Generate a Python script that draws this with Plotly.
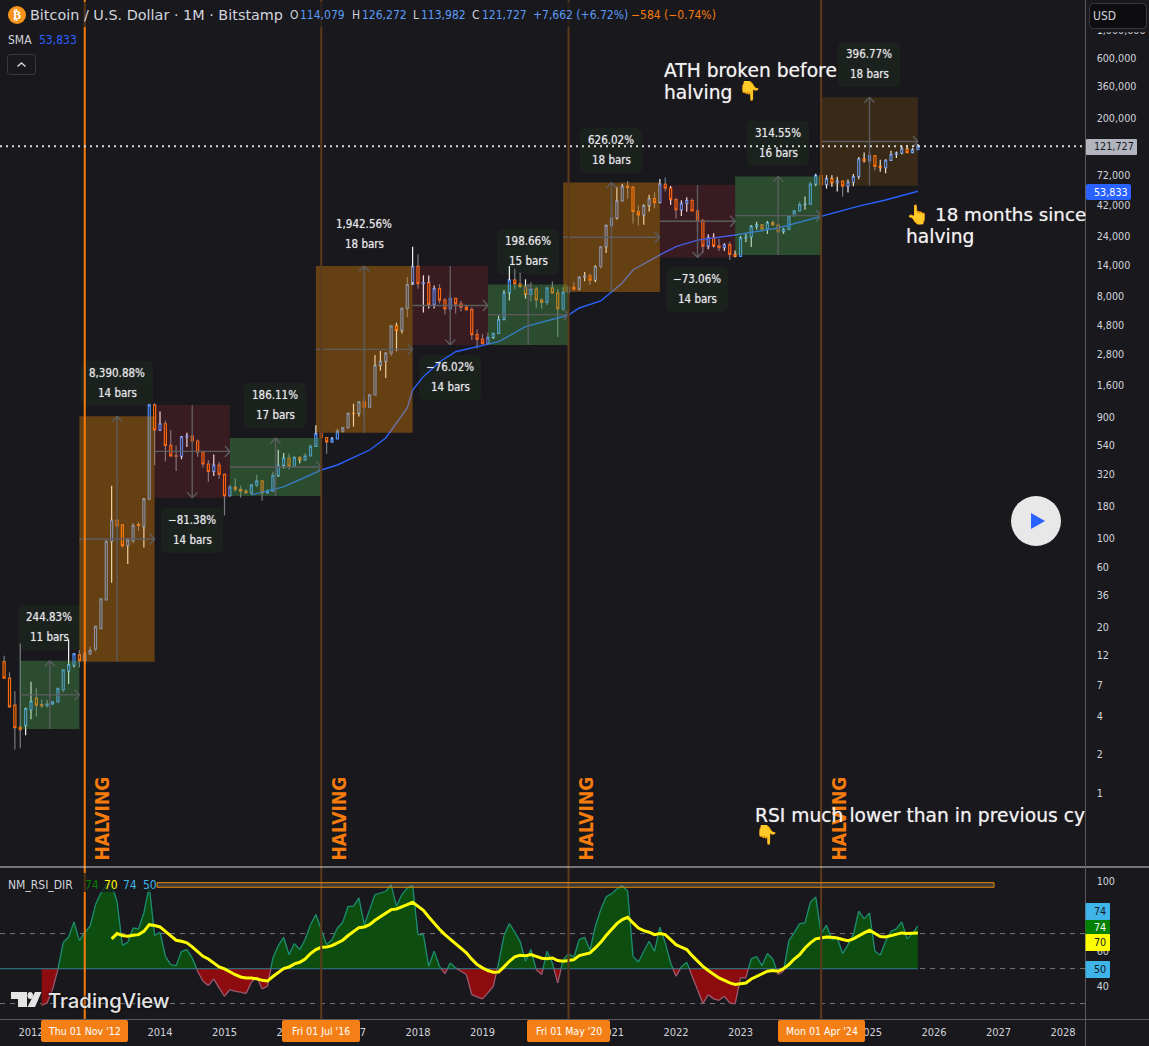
import plotly.graph_objects as go

W, H = 1149, 1046
BG = "#19181c"
TXT = "#d1d4dc"
FONT = "DejaVu Sans Condensed"
UP_BLUE = "#5b9cf6"
PANE_RIGHT, MAIN_BOTTOM, RSI_TOP, RSI_BOTTOM = 1085.5, 867, 868, 1019

# Monthly candles. Index 0 is January 2014; the series opens in August 2011.
FIRST_MONTH = -29
open_early = [10.8, 8.0, 4.9, 3.3, 3.4, 4.5, 5.55, 4.95, 4.85, 5.0, 5.2, 6.5, 9.1, 10.1, 12.2, 11, 12.4, 13.5, 19.6,
              33, 94.5, 139, 128, 88, 96, 129, 124, 204, 1125]
close_early = [8.0, 4.76, 3.26, 3.15, 4.6, 5.25, 4.9, 4.85, 5.0, 5.2, 6.65, 9.3, 10.2, 12.4, 11.0, 12.4, 13.2, 20.4,
               33.6, 95, 140, 126, 88, 98, 127, 127, 204, 1125, 715]
close_late = [
    800, 540, 447, 445, 630, 640, 585, 480, 386, 338, 378, 320,
    218, 254, 244, 236, 230, 264, 284, 229, 236, 314, 377, 430,
    369, 436, 416, 448, 530, 670, 621, 575, 609, 700, 745, 966,
    965, 1190, 1080, 1350, 2300, 2480, 2870, 4700, 4340, 6450, 9950, 13800,
    10100, 10300, 6930, 9240, 7490, 6390, 7730, 7010, 6610, 6300, 4020, 3700,
    3430, 3820, 4100, 5270, 8550, 10800, 10080, 9590, 8300, 9150, 7540, 7190,
    9350, 8550, 6410, 8620, 9450, 9140, 11350, 11650, 10780, 13780, 19700, 29000,
    33100, 45200, 58800, 57700, 37300, 35040, 41500, 47100, 43800, 61300, 56950, 46200,
    38500, 43200, 45500, 37700, 31800, 19950, 23300, 20050, 19420, 20490, 17170, 16540,
    23130, 23490, 28470, 29250, 27200, 30470, 29230, 25940, 26970, 34650, 37720, 42280,
    42580, 61130, 71290, 60670, 67500, 62770, 64620, 58970, 63330, 70290, 96450, 93540,
    102400, 84350, 82500, 94200, 104600, 107100, 115700, 108200, 114079, 121727]
high = [12, 8.9, 6.3, 15, 4.7, 7.5, 6.65, 5.4, 5.4, 5.25, 6.7, 9.4, 16, 12.5, 13.3, 12.9, 14.1, 20.7, 33.8, 97, 260,
        141, 130, 101, 133, 135, 208, 1155, 1160,
        1000, 850, 715, 540, 640, 680, 655, 600, 490, 415, 458, 400,
        320, 265, 298, 260, 245, 268, 317, 285, 245, 335, 500, 470,
        465, 440, 440, 470, 550, 780, 700, 625, 630, 735, 755, 980,
        1150, 1200, 1300, 1350, 2780, 2980, 2910, 4750, 4980, 6450, 11400, 19666,
        17170, 11780, 11700, 9760, 10000, 7780, 8480, 7770, 7400, 6800, 6580, 4400,
        4060, 4180, 4100, 5640, 9000, 13880, 13200, 12320, 10930, 10370, 9500, 7750,
        9580, 10500, 9180, 9470, 10080, 10380, 11440, 12470, 12070, 14100, 19850, 29300,
        41990, 58300, 61700, 64900, 59500, 41300, 42500, 50500, 52900, 67000, 69000, 59100,
        47900, 45800, 48200, 47400, 39800, 32400, 24700, 25200, 22800, 21000, 21500, 18400,
        23900, 25250, 29200, 31000, 29800, 31400, 31800, 30200, 27500, 35000, 38400, 44700,
        48900, 64000, 73800, 72800, 71900, 72000, 70000, 65000, 66500, 73600, 99800, 108300,
        109300, 102700, 95200, 95800, 111900, 110500, 123200, 124500, 117900, 126272]
low = [8, 4.7, 2.2, 2.25, 2.85, 3.8, 4.0, 4.65, 4.7, 4.95, 5.15, 6.2, 7.2, 9.7, 9.7, 10.3, 12.2, 13, 19.5, 33, 45,
       125, 85, 63, 92, 115, 85, 200, 378,
       700, 403, 440, 340, 420, 525, 570, 440, 360, 280, 310, 295,
       152, 212, 235, 210, 225, 220, 254, 198, 225, 236, 305, 355,
       350, 368, 390, 405, 437, 528, 610, 465, 570, 606, 680, 735,
       760, 910, 900, 1080, 1350, 2100, 1830, 2710, 2970, 4100, 5500, 10400,
       9200, 6000, 6430, 6430, 7040, 5770, 6070, 5880, 6100, 6200, 3650, 3120,
       3340, 3370, 3700, 4060, 5340, 7440, 9100, 9320, 7700, 7300, 6515, 6410,
       6850, 8450, 3850, 6150, 8100, 8900, 8970, 10540, 9880, 10370, 13200, 17600,
       27700, 32300, 45000, 47000, 30000, 28900, 29300, 37300, 39600, 43200, 53500, 42000,
       32900, 34300, 37200, 37600, 26000, 17600, 18800, 19500, 18200, 18200, 15500, 16300,
       16500, 21400, 19600, 26900, 25800, 24800, 28900, 25300, 24900, 26600, 34100, 37600,
       38500, 41900, 59000, 59600, 56500, 58400, 53500, 49000, 52700, 58900, 66800, 90700,
       89100, 78200, 76600, 74400, 93400, 98200, 105100, 107300, 107300, 113982]
bright_wick_months = [-25, -24, -17, -16, -14, -9, -6, -3, 0, 4, 5, 10, 22, 23, 25, 26, 29, 32, 36, 37, 39, 40, 41, 42,
                      44, 45, 47, 49, 50, 51, 62, 63, 64, 65, 68, 78, 79, 81, 83, 84, 85, 86, 90, 91, 93, 95, 97, 98,
                      102, 103, 105, 107, 108, 109, 110, 111, 113, 116, 120, 122, 123, 124, 125, 126, 128, 129, 130,
                      131, 132, 134, 135, 136, 137, 138, 139, 140, 141]

# Moving average knots: month index and price.
sma_months = [17, 23, 30, 33, 39, 42, 46, 47, 49, 52, 55, 59, 63, 68, 76, 78, 82, 86, 88, 93, 96, 100, 107, 115, 123,
              130, 135, 141]
sma_values = [221, 255, 346, 379, 497, 618, 1063, 1473, 1875, 2445, 2945, 3227, 3532, 4634, 5728, 6500, 7380, 10230,
              12940, 16980, 19720, 22230, 24370, 27670, 34380, 41080, 45900, 53833]

# RSI from month -22 to the last bar.
RSI_FIRST_MONTH = -22
rsi_values = [28.9, 30.4, 38, 49.4, 65, 68.1, 76.7, 66, 70.8, 74.2, 86.6, 93.2, 98, 98, 88.5, 63.3, 65, 73.2, 72.7,
              81.8, 97, 68.9, 70.8, 57, 52.3, 51.7, 59.9, 60.9, 56.1, 48.5, 42.8, 40.3, 44.1, 39, 34.2, 38, 37, 36.5,
              35.7, 42.2, 45.2, 38.4, 39.9, 56.1, 63.1, 67.9, 58, 64.3, 60.9, 66.6, 75.1, 80.9, 72.3, 63.7, 66.6,
              73.2, 76.5, 85.6, 85.6, 90.4, 75.1, 83.7, 92.3, 93.2, 94.2, 97.8, 85.6, 92.3, 96.1, 97.4, 69.4, 69.4,
              51.3, 59.9, 51.3, 47.1, 53.2, 50.4, 48.5, 46.6, 35.1, 33.8, 32.7, 36.1, 39.9, 53.2, 68.9, 75.7, 70.8,
              65.6, 54.2, 60.9, 49.4, 46.6, 59.9, 53.2, 41.8,
              55.1, 58.4, 56.5, 66.6, 67.9, 60.5, 74.2, 83.7, 91, 92.7, 95.5, 97.4, 94.2, 57, 53.8, 59.9, 65.6, 59.9,
              73.6, 64.7, 53.2, 45.6, 51, 53.6, 45.6, 38, 30, 35.1, 32.7, 31.9, 34.2, 30.4, 29.8, 44.7, 44.7, 55.7,
              56.9, 51.7, 58.6, 55.5, 46.6, 48.5, 66, 70.4, 75.7, 76.1, 87.9, 91, 70, 74.8, 66.6, 67.5, 58.6, 63.7,
              69.4, 82.8, 78.4, 81.8, 59.9, 57.6, 65.6, 71.3, 72.7, 76.7, 67, 70, 74.3]
RSI_MA_FIRST_MONTH = -9
rsi_ma_values = [67, 70, 68.9, 68.5, 69, 69.4, 71.3, 75.1, 74.6, 73.8, 71.3, 68.5, 66.2, 65.6, 64.7, 62.4, 59.9, 57,
                 55.5, 53.2, 51, 49.8, 48, 46.5, 45.2, 44.6, 44.6, 44.2, 43.3, 42.9, 45.5, 47.8, 50, 50.9, 52.7, 53.6,
                 55.5, 58.6, 60.9, 62.2, 62.4, 63.1, 64.7, 66.2, 68.9, 71.3, 73.4, 73.8, 75.1, 77.6, 79.5, 81.8, 83.7,
                 84.1, 85.2, 86.6, 87.9, 85.6, 83.3, 79.5, 75.9, 72.5, 69.4, 66.9, 64.4, 61.9, 59, 55.4, 52.3, 50.4,
                 48.9, 47.9, 48.1, 51, 54.2, 56.7, 57.6, 57.4, 58, 57, 55.9, 55.7, 56.1, 54.6, 54.2, 54.6, 55.1, 57.4,
                 58.4, 59, 61.8, 65, 68.9, 72.3, 75.7, 78, 79.3, 76.1, 73.2, 71.7, 70.8, 69.4, 70, 69.4, 66.6, 63.7,
                 62.2, 60.9, 57.4, 54.2, 51.3, 48.9, 46.6, 44.7, 43.3, 41.8, 40.9, 41.2, 41.8, 44.1, 45.6, 46.9, 48.5,
                 48.9, 48.5, 50, 52.3, 55.5, 58, 61.8, 64.7, 67, 67.5, 68.1, 67.9, 67.5, 66.6, 66, 67, 68.9, 70.4,
                 71.9, 70, 68.3, 68.1, 68.9, 69.8, 70.4, 70, 70, 70.3]

# Measured ranges: first month, bar count, base price (where the move starts), percent change, kind.
range_starts = [-26, -15, -1, 13, 29, 47, 61, 75, 93, 107, 123]
range_bars = [11, 14, 14, 17, 18, 14, 15, 18, 14, 16, 18]
range_base = [3.18, 10.77, 1123, 216, 680, 13900, 3333, 8685, 60260, 16980, 59470]
range_pct = [244.83, 8390.88, -81.38, 186.11, 1942.56, -76.02, 198.66, 626.02, -73.06, 314.55, 396.77]
range_fill = ["rgba(76,175,80,.35)", "rgba(240,140,0,.35)", "rgba(242,54,69,.15)", "rgba(76,175,80,.35)",
              "rgba(240,140,0,.35)", "rgba(242,54,69,.15)", "rgba(76,175,80,.35)", "rgba(240,140,0,.35)",
              "rgba(242,54,69,.15)", "rgba(76,175,80,.35)", "rgba(240,140,0,.15)"]
range_labels = ["244.83%", "8,390.88%", "−81.38%", "186.11%", "1,942.56%", "−76.02%", "198.66%", "626.02%", "−73.06%",
                "314.55%", "396.77%"]
label_centers = [49, 117, 192, 275, 364, 450, 528, 611, 697, 778, 869]
label_tops = [605, 361, 508, 383, 212, 355, 229, 128, 267, 121, 42]
label_has_panel = [True, True, True, True, False, True, True, True, True, True, True]

halving_months = [-14, 30, 76, 123]
halving_dates = ["Thu 01 Nov '12", "Fri 01 Jul '16", "Fri 01 May '20", "Mon 01 Apr '24"]
halving_tags = [(41, 128), (282, 360), (527, 610), (778, 865)]
year_labels = ["2012", "2014", "2015", "2016", "2017", "2018", "2019", "2021", "2022", "2023", "2025", "2026", "2027",
               "2028"]
year_months = [-24, 0, 12, 24, 36, 48, 60, 84, 96, 108, 132, 144, 156, 168]
price_ticks = [1, 2, 4, 7, 12, 20, 36, 60, 100, 180, 320, 540, 900, 1600, 2800, 4800, 8000, 14000, 24000, 42000, 72000,
               200000, 360000, 600000, 1000000]

PX_PER_MONTH = 5.375
PX_ORIGIN = 160.0
PX_PER_DECADE = 127.2
ONE_AT = 793.0


def xp(px):
    return px / W


def yp(py):
    return 1 - py / H


def month_at(px):
    return (px - PX_ORIGIN) / PX_PER_MONTH


x_range = [month_at(0), month_at(PANE_RIGHT)]
y_range = [(ONE_AT - MAIN_BOTTOM) / PX_PER_DECADE, ONE_AT / PX_PER_DECADE]
RSI_50_AT, RSI_UNIT = 968.6, 1.75
y2_range = [50 + (RSI_50_AT - RSI_BOTTOM) / RSI_UNIT, 50 + (RSI_50_AT - RSI_TOP) / RSI_UNIT]

open_all = open_early + [close_early[-1]] + close_late[:-1]
close_all = close_early + close_late
months = list(range(FIRST_MONTH, FIRST_MONTH + len(close_all)))
body_hi = [max(o, c) for o, c in zip(open_all, close_all)]
body_lo = [min(o, c) for o, c in zip(open_all, close_all)]


def wick_segments(selected):
    xs, ys = [], []
    for m, h, l, top, bot in zip(months, high, low, body_hi, body_lo):
        if selected(m):
            xs += [m, m, None, m, m, None]
            ys += [h, top, None, bot, l, None]
    return xs, ys


fig = go.Figure()
bright = set(bright_wick_months)
for selected, colour in ((lambda m: m not in bright, "#787b86"), (lambda m: m in bright, "#f4f4f4")):
    wx, wy = wick_segments(selected)
    fig.add_trace(go.Scatter(x=wx, y=wy, mode="lines", line=dict(color=colour, width=1.2), hoverinfo="skip"))

fig.add_trace(go.Candlestick(
    x=months, open=open_all, high=body_hi, low=body_lo, close=close_all,
    increasing=dict(line=dict(color="#4f8ff7", width=1.2), fillcolor="rgba(0,0,0,0)"),
    decreasing=dict(line=dict(color="#ff6d0a", width=1.2), fillcolor="rgba(0,0,0,0)"),
    whiskerwidth=0, hoverinfo="skip"))
fig.add_trace(go.Scatter(x=sma_months, y=sma_values, mode="lines", line=dict(color="#2962ff", width=1.4),
                         hoverinfo="skip"))

# RSI pane: guide levels go first so that the area covers them.
for level in (70, 50, 30):
    fig.add_trace(go.Scatter(x=x_range, y=[level, level], mode="lines", xaxis="x", yaxis="y2", hoverinfo="skip",
                             line=dict(color="#77777c", width=1, dash="5px,5px")))

rsi_months = list(range(RSI_FIRST_MONTH, RSI_FIRST_MONTH + len(rsi_values)))
cross_x, cross_y = [], []
for k, (m, v) in enumerate(zip(rsi_months, rsi_values)):
    if k and (rsi_values[k - 1] - 50) * (v - 50) < 0:
        prev = rsi_values[k - 1]
        cross_x.append(m - 1 + (50 - prev) / (v - prev))
        cross_y.append(50)
    cross_x.append(m)
    cross_y.append(v)

for clip, colour in ((lambda v: max(v, 50), "#0e4d10"), (lambda v: min(v, 50), "#8c0c0f")):
    fig.add_trace(go.Scatter(x=cross_x, y=[50] * len(cross_x), mode="lines", line=dict(width=0), xaxis="x",
                             yaxis="y2", hoverinfo="skip"))
    fig.add_trace(go.Scatter(x=cross_x, y=[clip(v) for v in cross_y], mode="lines", line=dict(width=0), xaxis="x",
                             yaxis="y2", fill="tonexty", fillcolor=colour, hoverinfo="skip"))

fig.add_trace(go.Scatter(x=[x_range[0], rsi_months[-1]], y=[50, 50], mode="lines", xaxis="x", yaxis="y2",
                         line=dict(color="#2d6b78", width=1.2), hoverinfo="skip"))
for test, colour in ((lambda a, b: a >= 50 and b >= 50, "#1c8f72"), (lambda a, b: a <= 50 and b <= 50, "#9a5a70")):
    sx, sy = [], []
    for a_x, a_y, b_x, b_y in zip(cross_x, cross_y, cross_x[1:], cross_y[1:]):
        if test(a_y, b_y):
            sx += [a_x, b_x, None]
            sy += [a_y, b_y, None]
    fig.add_trace(go.Scatter(x=sx, y=sy, mode="lines", xaxis="x", yaxis="y2", line=dict(color=colour, width=1.3),
                             hoverinfo="skip"))
rsi_ma_months = list(range(RSI_MA_FIRST_MONTH, RSI_MA_FIRST_MONTH + len(rsi_ma_values)))
fig.add_trace(go.Scatter(x=rsi_ma_months, y=rsi_ma_values, mode="lines", xaxis="x", yaxis="y2",
                         line=dict(color="#ffff00", width=3), hoverinfo="skip"))

shapes, notes = [], []
HEAVY = "0 0 1px rgba(255,255,255,.55)"


def note(px, py, text, size=12, color=TXT, anchor="left", valign="middle", family=FONT, **font_extra):
    notes.append(dict(x=xp(px), y=yp(py), xref="paper", yref="paper", text=text, showarrow=False, xanchor=anchor,
                      yanchor=valign, align=anchor, borderpad=0, borderwidth=0,
                      font=dict(family=family, size=size, color=color, **font_extra)))


def panel(x0, y0, x1, y1, fill, r=0, line=None, line_width=1, layer="above"):
    x0f, x1f, y0f, y1f = xp(x0), xp(x1), yp(y0), yp(y1)
    rx, ry = r / W, r / H
    path = (f"M{x0f + rx},{y0f} L{x1f - rx},{y0f} Q{x1f},{y0f} {x1f},{y0f - ry} L{x1f},{y1f + ry} "
            f"Q{x1f},{y1f} {x1f - rx},{y1f} L{x0f + rx},{y1f} Q{x0f},{y1f} {x0f},{y1f + ry} "
            f"L{x0f},{y0f - ry} Q{x0f},{y0f} {x0f + rx},{y0f} Z")
    shapes.append(dict(type="path", xref="paper", yref="paper", path=path, fillcolor=fill, layer=layer,
                       line=dict(color=line or "rgba(0,0,0,0)", width=line_width if line else 0)))


def rule(x0, y0, x1, y1, colour, width=1, dash="solid"):
    shapes.append(dict(type="line", xref="paper", yref="paper", x0=xp(x0), x1=xp(x1), y0=yp(y0), y1=yp(y1),
                       layer="above", line=dict(color=colour, width=width, dash=dash)))


def data_line(x0, v0, x1, v1, colour="#5c5c60", width=1.4):
    shapes.append(dict(type="line", xref="x", yref="y", x0=x0, x1=x1, y0=v0, y1=v1, layer="above",
                       line=dict(color=colour, width=width)))


# Measured ranges with their crossed arrows.
HEAD_MONTHS = 5 / PX_PER_MONTH
HEAD_FACTOR = 10 ** (5.5 / PX_PER_DECADE)
for start, bars, base, pct, fill in zip(range_starts, range_bars, range_base, range_pct, range_fill):
    end = start + bars
    target = base * (1 + pct / 100)
    shapes.append(dict(type="rect", xref="x", yref="y", x0=start, x1=end, y0=base, y1=target, fillcolor=fill,
                       layer="above", line=dict(width=0)))
    mid_x = (start + end) / 2
    mid_v = (base * target) ** 0.5
    data_line(mid_x, base, mid_x, target)
    data_line(start, mid_v, end, mid_v)
    back = HEAD_FACTOR ** (-1 if pct > 0 else 1)
    data_line(mid_x, target, mid_x - HEAD_MONTHS, target * back)
    data_line(mid_x, target, mid_x + HEAD_MONTHS, target * back)
    data_line(end, mid_v, end - HEAD_MONTHS, mid_v * HEAD_FACTOR)
    data_line(end, mid_v, end - HEAD_MONTHS, mid_v / HEAD_FACTOR)

for text, bars, cx, top, has_panel in zip(range_labels, range_bars, label_centers, label_tops, label_has_panel):
    half = 36 if len(text) > 8 else 31
    if has_panel:
        panel(cx - half, top, cx + half, top + 45, "#1b211d", r=5, layer="below")
    note(cx, top + 12, text, anchor="center", color="#e6e7ea", size=11.5, shadow=HEAVY)
    note(cx, top + 32, f"{bars} bars", anchor="center", color="#e6e7ea", size=11.5, shadow=HEAVY)

# Halving markers.
for k, (month, date, (tag0, tag1)) in enumerate(zip(halving_months, halving_dates, halving_tags)):
    colour = "#f57c0c" if k == 0 else "#5c3a1c"
    shapes.append(dict(type="line", xref="x", yref="paper", x0=month, x1=month, y0=yp(RSI_BOTTOM), y1=1,
                       layer="above", line=dict(color=colour, width=2)))
    panel(tag0, 1020, tag1, 1042, "#f57f17", r=2)
    note((tag0 + tag1) / 2, 1031, date, anchor="center", color="#ffffff", size=10.5)
    text_x = 101 if k == 0 else (338, 585, 838)[k - 1]
    notes.append(dict(x=xp(text_x), y=yp(818.5), xref="paper", yref="paper", text="HALVING", showarrow=False,
                      textangle=-90, xanchor="center", yanchor="middle",
                      font=dict(family="DejaVu Sans Condensed", size=19, color="#f57c0c", weight=700)))

# Last price guide and pane frames.
shapes.append(dict(type="line", xref="x", yref="y", x0=x_range[0], x1=x_range[1], y0=close_all[-1], y1=close_all[-1],
                   layer="above", line=dict(color="#d8d8d8", width=2, dash="2px,4px")))

# Dimmed backing behind the two indicator legends.
panel(0, 2, 716, 27, "rgba(25,24,28,.7)")
panel(4, 873, 157, 892, "rgba(25,24,28,.75)")

shapes.append(dict(type="rect", xref="x", yref="y2", x0=month_at(157), x1=month_at(994), y0=96.5, y1=99.1,
                   fillcolor="rgba(120,120,120,.35)", layer="above", line=dict(color="#f08c00", width=1)))

rule(0, 867, W, 867, "#d4d4d4", 1)
rule(0, 1019.5, W, 1019.5, "#5a5a5e", 1)
rule(PANE_RIGHT, 0, PANE_RIGHT, 1046, "#5a5a5e", 1)

# Header.
shapes.append(dict(type="circle", xref="paper", yref="paper", x0=xp(8), x1=xp(26), y0=yp(24), y1=yp(6),
                   fillcolor="#f7931a", layer="above", line=dict(width=0)))
note(17, 15.5, "₿", size=12, color="#ffffff", anchor="center", family="DejaVu Sans", weight=700)
note(30, 15.5, "Bitcoin / U.S. Dollar · 1M · Bitstamp", size=14.4, family="DejaVu Sans")
for px, label in ((290, "O"), (352, "H"), (413, "L"), (472, "C")):
    note(px, 15.5, label, size=12)
for px, label in ((300, "114,079"), (362, "126,272"), (421, "113,982"), (482, "121,727"),
                  (533, "+7,662 (+6.72%)")):
    note(px, 15.5, label, size=12, color=UP_BLUE)
note(631, 15.5, "−584 (−0.74%)", size=12, color="#f57c0c")
note(8, 39.5, "SMA", size=12)
note(39, 39.5, "53,833", size=12, color="#2962ff")
panel(7.5, 54.5, 35.5, 74.5, "rgba(0,0,0,0)", r=3, line="#3a3a3e")
shapes.append(dict(type="path", xref="paper", yref="paper", layer="above", line=dict(color="#d1d4dc", width=1.5),
                   path=f"M{xp(17.5)},{yp(66.5)} L{xp(21.5)},{yp(63)} L{xp(25.5)},{yp(66.5)}"))

# Written commentary on the chart.
COMMENT = 18.7
note(664, 71, "ATH broken before", size=COMMENT, color="#f2f2f2", family="DejaVu Sans", shadow=HEAVY)
note(664, 92, "halving", size=COMMENT, color="#f2f2f2", family="DejaVu Sans", shadow=HEAVY)
note(738, 91, "👇", size=COMMENT, color="#f2f2f2", family="DejaVu Sans")
note(906, 215, "👆", size=COMMENT, color="#f2f2f2", family="DejaVu Sans")
note(935, 215, "18 months since", size=18.3, color="#f2f2f2", family="DejaVu Sans", shadow=HEAVY)
note(906, 236, "halving", size=COMMENT, color="#f2f2f2", family="DejaVu Sans", shadow=HEAVY)
note(755, 815, "RSI much lower than in previous cy", size=COMMENT, color="#f2f2f2", family="DejaVu Sans",
     shadow=HEAVY)
note(755, 835, "👇", size=COMMENT, color="#f2f2f2", family="DejaVu Sans")

# Play badge.
shapes.append(dict(type="circle", xref="paper", yref="paper", x0=xp(1011), x1=xp(1061), y0=yp(546), y1=yp(496),
                   fillcolor="#e8e8e8", layer="above", line=dict(width=0)))
shapes.append(dict(type="path", xref="paper", yref="paper", layer="above", fillcolor="#2962ff", line=dict(width=0),
                   path=f"M{xp(1031)},{yp(513)} L{xp(1045)},{yp(521)} L{xp(1031)},{yp(529)} Z"))

# Price scale overlays.
panel(1086, 0, W, 32, BG)
panel(1089.5, 3.5, 1146.5, 28.5, "#0d0d0f", r=4, line="#3a3a3e")
note(1093, 16, "USD", size=12)
panel(1086, 139, 1137, 155, "#b2b5be", r=1)
note(1094, 147, f"{close_all[-1]:,}", size=10.7, color="#131722")
panel(1086, 184, 1131, 200, "#2962ff", r=2)
note(1094, 192, f"{sma_values[-1]:,}", size=10.7, color="#ffffff")

# RSI scale tags and legend, all using the final values of the series.
rsi_last = int(rsi_values[-1])
ma_last = int(rsi_ma_values[-1])
for y0, y1, fill, text, ink in ((903, 920, "#3fb4e8", "74", "#131722"), (920, 935, "#008000", f"{rsi_last}", "#ffffff"),
                                (934, 951, "#ffff00", f"{ma_last}", "#131722"), (961, 978, "#3fb4e8", "50", "#131722")):
    panel(1085.5, y0, 1110, y1, fill, r=1)
    note(1094, (y0 + y1) / 2, text, size=10.7, color=ink)
note(8, 885, "NM_RSI_DIR", size=12)
note(85, 885, f"{rsi_last}", size=12, color="#008000")
note(103.5, 885, f"{ma_last}", size=12, color="#ffff00")
note(123, 885, "74", size=12, color="#3fb4e8")
note(143, 885, "50", size=12, color="#3fb4e8")

# Watermark: the mark is built from simple pieces, the word stays text.
WM = "#e4e4e4"
panel(11, 992, 27, 999, WM)
panel(18, 999, 27, 1007, WM)
shapes.append(dict(type="circle", xref="paper", yref="paper", x0=xp(27.5), x1=xp(33), y0=yp(999), y1=yp(992),
                   fillcolor=WM, layer="above", line=dict(width=0)))
shapes.append(dict(type="path", xref="paper", yref="paper", layer="above", fillcolor=WM, line=dict(width=0),
                   path=f"M{xp(35)},{yp(992)} L{xp(41.5)},{yp(992)} L{xp(35)},{yp(1007)} L{xp(27.5)},{yp(1007)} Z"))
note(48, 1000, "TradingView", size=20.3, color=WM, family="Inter", weight=500, shadow="0 0 3px #000")

axis_font = dict(family=FONT, size=10.7, color=TXT)
fig.update_layout(
    width=W, height=H, margin=dict(l=0, r=0, t=0, b=0, pad=0, autoexpand=False), paper_bgcolor=BG, plot_bgcolor=BG,
    showlegend=False, boxgap=0.45, hovermode=False, shapes=shapes, annotations=notes,
    xaxis=dict(domain=[0, xp(PANE_RIGHT)], range=x_range, anchor="y2", showgrid=False, zeroline=False, showline=False,
               rangeslider=dict(visible=False), tickmode="array", tickvals=year_months, ticktext=year_labels,
               ticks="outside", ticklen=3, tickcolor=BG, tickfont=dict(family=FONT, size=11, color=TXT)),
    yaxis=dict(domain=[yp(MAIN_BOTTOM), 1], type="log", range=y_range, side="right", anchor="x", showgrid=False,
               zeroline=False, showline=False, tickmode="array", tickvals=price_ticks,
               ticktext=[f"{t:,}" for t in price_ticks], ticks="outside", ticklen=8, tickcolor=BG,
               tickfont=axis_font),
    yaxis2=dict(domain=[yp(RSI_BOTTOM), yp(RSI_TOP)], range=y2_range, side="right", anchor="x", showgrid=False,
                zeroline=False, showline=False, tickmode="array", tickvals=[100, 60, 40], ticks="outside",
                ticklen=8, tickcolor=BG, tickfont=axis_font),
)

fig.write_html("out.html", config=dict(displayModeBar=False, responsive=False))
